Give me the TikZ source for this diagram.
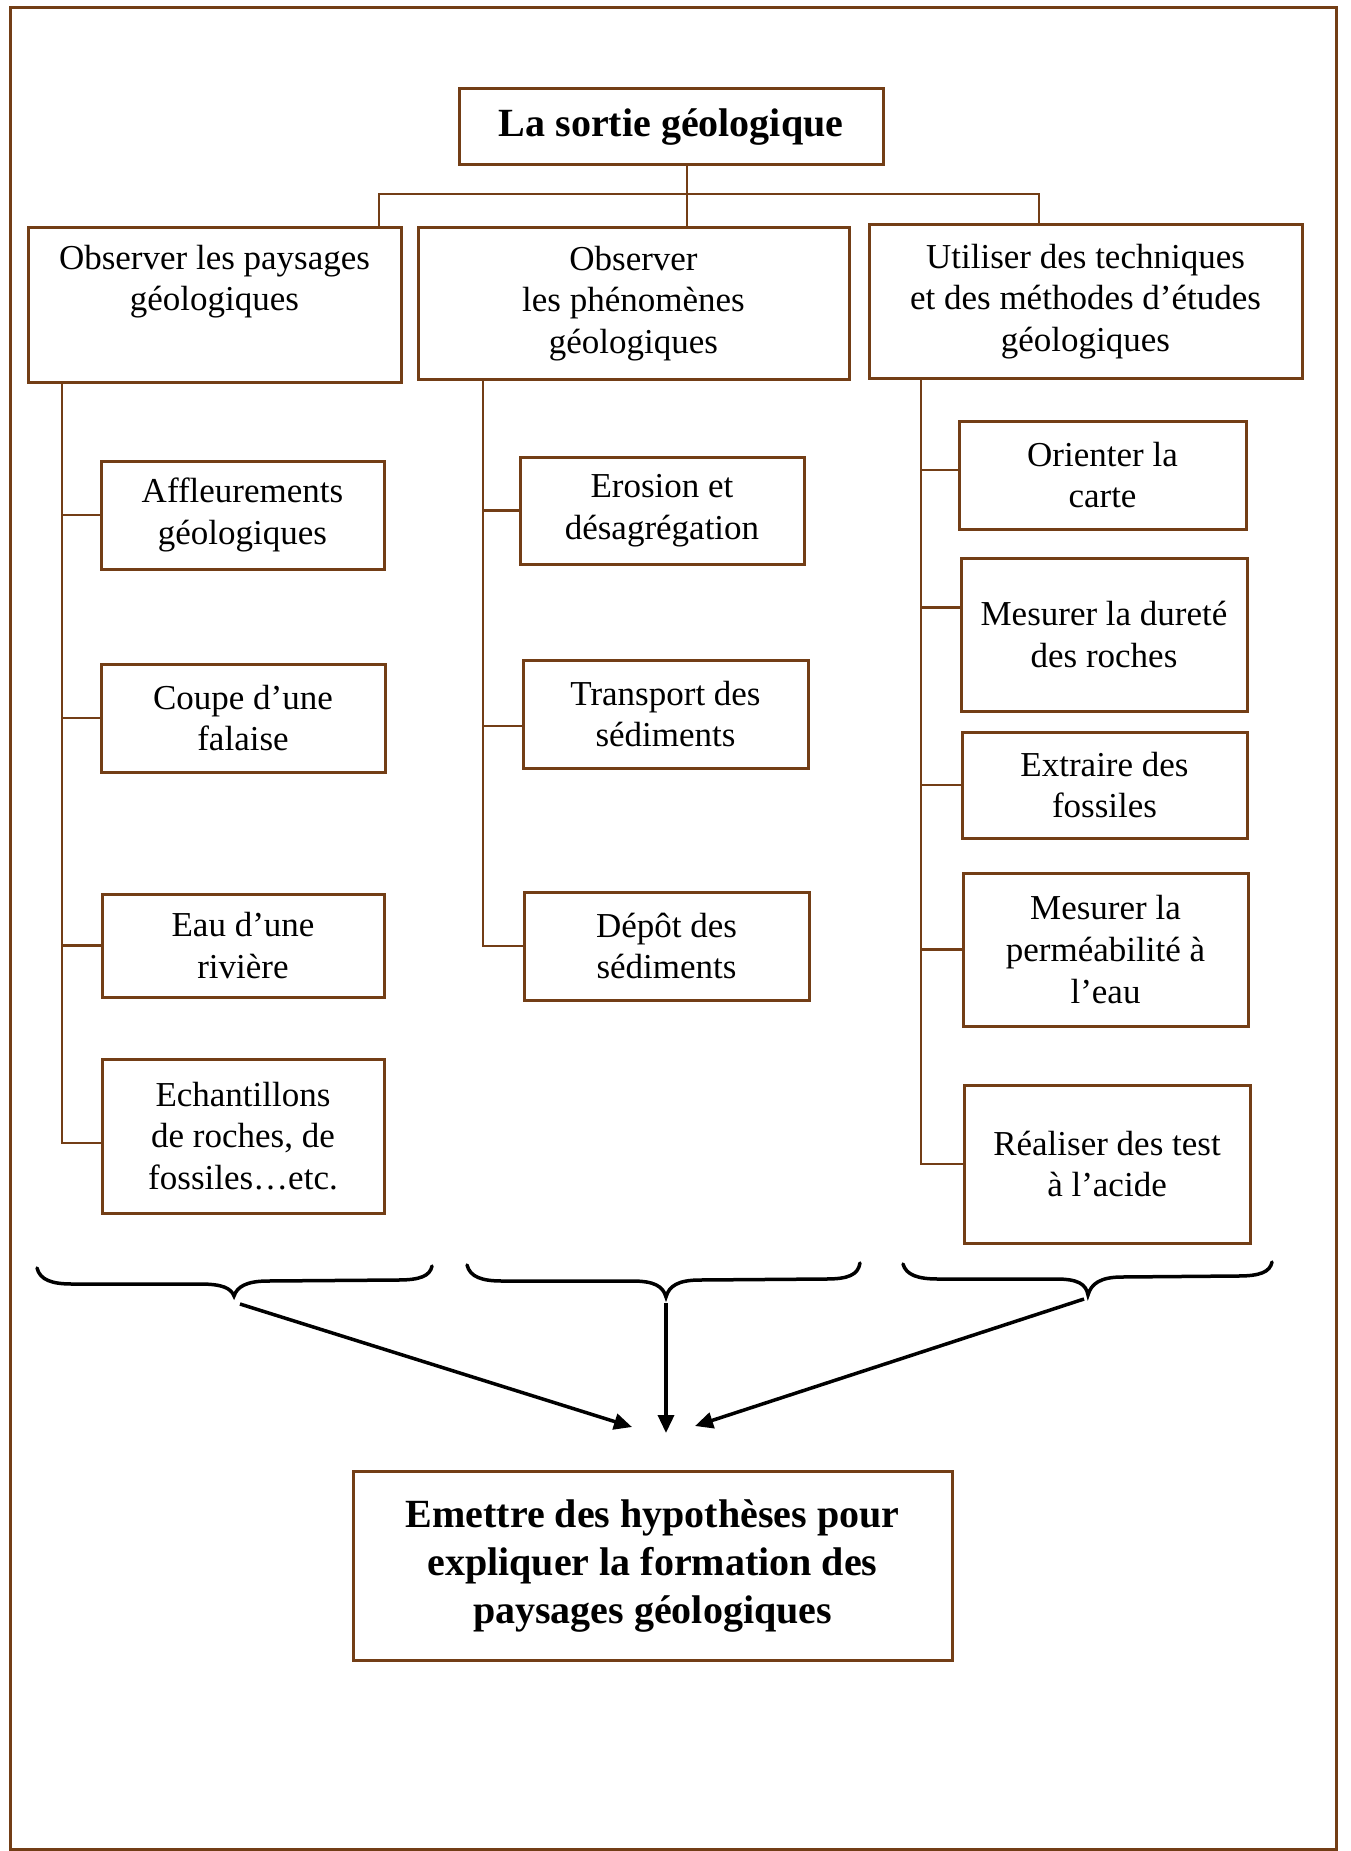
\documentclass[tikz,border=0pt]{standalone}
\usepackage{fontspec}
\setmainfont{Liberation Serif}
\usetikzlibrary{arrows.meta,calc}
\definecolor{brn}{RGB}{115,62,22}
\begin{document}
\begin{tikzpicture}[x=1pt,y=-1pt,
  box/.style={draw=brn, line width=3pt, rectangle, inner sep=0pt, align=center,
    font=\fontsize{35}{41.7}\selectfont},
  bigtxt/.style={font=\fontsize{40}{48}\selectfont\bfseries},
  conn/.style={draw=brn, line width=2.5pt},
  bracestyle/.style={draw=black, line width=3.5pt, line cap=round},
  arr/.style={draw=black, line width=3.5pt, -{Triangle[length=18pt,width=16pt]}}]

\useasboundingbox (0,0) rectangle (1350,1851);
\draw[brn, line width=3pt] (10,8) rectangle (1336,1849);

% title
\node[box, bigtxt, minimum width=424, minimum height=76] (title) at (671,127) {La sortie géologique};

% level 1
\node[box, minimum width=373, minimum height=154] (A) at (214.5,305) {Observer les paysages\\géologiques\\\strut};
\node[box, minimum width=431, minimum height=151] (B) at (633.5,303.5) {Observer\\les phénomènes\\géologiques};
\node[box, minimum width=433, minimum height=153] (C) at (1085.5,301.5) {Utiliser des techniques\\et des méthodes d’études\\géologiques};

% column A
\node[box, minimum width=283, minimum height=108] (aff) at (242.5,515) {Affleurements\\géologiques};
\node[box, minimum width=284, minimum height=108] (coupe) at (243,718) {Coupe d’une\\falaise};
\node[box, minimum width=282, minimum height=103] (eau) at (243,945.5) {Eau d’une\\rivière};
\node[box, minimum width=282, minimum height=154] (ech) at (243,1136) {Echantillons\\de roches, de\\fossiles…etc.};

% column B
\node[box, minimum width=284, minimum height=107] (ero) at (662,510.5) {Erosion et\\désagrégation};
\node[box, minimum width=285, minimum height=108] (trans) at (665.5,714) {Transport des\\sédiments};
\node[box, minimum width=285, minimum height=108] (depot) at (666.5,946) {Dépôt des\\sédiments};

% column C
\node[box, minimum width=287, minimum height=108] (ori) at (1102.5,475) {Orienter la\\carte};
\node[box, minimum width=286, minimum height=153] (dur) at (1104,634.5) {Mesurer la dureté\\des roches};
\node[box, minimum width=285, minimum height=106] (ext) at (1104.5,785) {Extraire des\\fossiles};
\node[box, minimum width=285, minimum height=153] (perm) at (1105.5,949.5) {Mesurer la\\perméabilité à\\l’eau};
\node[box, minimum width=286, minimum height=158] (real) at (1107,1164) {Réaliser des test\\à l’acide};

% bottom box
\node[box, bigtxt, minimum width=599, minimum height=189] (hyp) at (652.5,1565.5) {Emettre des hypothèses pour\\expliquer la formation des\\paysages géologiques};

% top connectors
\coordinate (bl) at (379,194);
\coordinate (bm) at (687,194);
\coordinate (br) at (1039,194);
\draw[conn] (bl |- A.north) -- (bl) -- (br) -- (br |- C.north);
\draw[conn] (bm |- title.south) -- (bm |- B.north);

% trunks
\coordinate (tA) at (62,0);
\coordinate (tB) at (483,0);
\coordinate (tC) at (921,0);

\coordinate (echc) at ($(ech.west)+(0,7)$);
\draw[conn] (tA |- A.south) -- (tA |- echc) -- (echc);
\draw[conn] (tA |- aff.west) -- (aff.west);
\draw[conn] (tA |- coupe.west) -- (coupe.west);
\draw[conn] (tA |- eau.west) -- (eau.west);

\coordinate (transc) at ($(trans.west)+(0,12)$);
\draw[conn] (tB |- B.south) -- (tB |- depot.west) -- (depot.west);
\draw[conn] (tB |- ero.west) -- (ero.west);
\draw[conn] (tB |- transc) -- (transc);

\coordinate (oric) at ($(ori.west)+(0,-5)$);
\coordinate (durc) at ($(dur.west)+(0,-27)$);
\draw[conn] (tC |- C.south) -- (tC |- real.west) -- (real.west);
\draw[conn] (tC |- oric) -- (oric);
\draw[conn] (tC |- durc) -- (durc);
\draw[conn] (tC |- ext.west) -- (ext.west);
\draw[conn] (tC |- perm.west) -- (perm.west);

% braces
\draw[bracestyle] (37,1268) .. controls (40,1280) and (52,1284) .. (72,1284)
  -- (200,1284) .. controls (222,1284) and (231,1288) .. (234,1296)
  .. controls (237,1287) and (246,1281) .. (268,1281)
  -- (398,1280) .. controls (420,1280) and (430,1276) .. (432,1266);
\draw[bracestyle] (467,1265) .. controls (470,1277) and (482,1281) .. (502,1281)
  -- (632,1281) .. controls (654,1281) and (663,1286) .. (666,1297)
  .. controls (669,1286) and (678,1280) .. (700,1280)
  -- (826,1279) .. controls (848,1279) and (858,1275) .. (860,1263);
\draw[bracestyle] (903,1264) .. controls (906,1275) and (918,1279) .. (938,1279)
  -- (1056,1279) .. controls (1078,1279) and (1086,1284) .. (1088,1295)
  .. controls (1091,1284) and (1100,1277) .. (1122,1277)
  -- (1238,1276) .. controls (1260,1276) and (1270,1272) .. (1272,1262);

% arrows
\coordinate (s1) at (240,1304);
\coordinate (s2) at (666,1303);
\coordinate (s3) at (1084,1299);
\coordinate (e1) at (632,1427);
\coordinate (e2) at (666,1433);
\coordinate (e3) at (695,1426);
\draw[arr] (s1) -- (e1);
\draw[arr] (s2) -- (e2);
\draw[arr] (s3) -- (e3);
\end{tikzpicture}
\end{document}
